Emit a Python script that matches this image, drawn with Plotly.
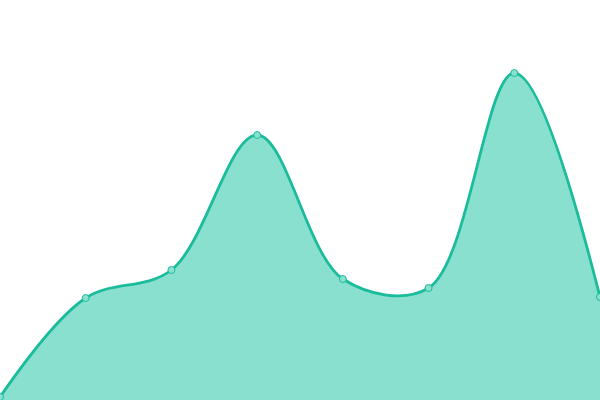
import plotly.graph_objects as go

categories = [0, 1, 2, 3, 4, 5, 6, 7]
values = [3, 102, 130, 265, 121, 112, 327, 103]

fig = go.Figure()
fig.add_trace(go.Scatter(
    x=categories, y=values,
    mode="lines+markers",
    line=dict(shape="spline", smoothing=1.0, color="#1abc9c", width=2.8),
    marker=dict(size=7, color="#8ae0cf", line=dict(color="#1abc9c", width=1)),
    fill="tozeroy",
    fillcolor="#8ae0cf",
    cliponaxis=True,
    hoverinfo="skip",
))
fig.update_layout(
    width=600, height=400,
    margin=dict(l=0, r=0, t=0, b=0),
    paper_bgcolor="white", plot_bgcolor="white",
    showlegend=False,
    xaxis=dict(visible=False, range=[0, 7]),
    yaxis=dict(visible=False, range=[0, 400]),
)
fig.write_html(
    "out.html",
    config={"displayModeBar": False},
    post_script="document.body.style.margin='0';document.body.style.overflow='hidden';",
)
